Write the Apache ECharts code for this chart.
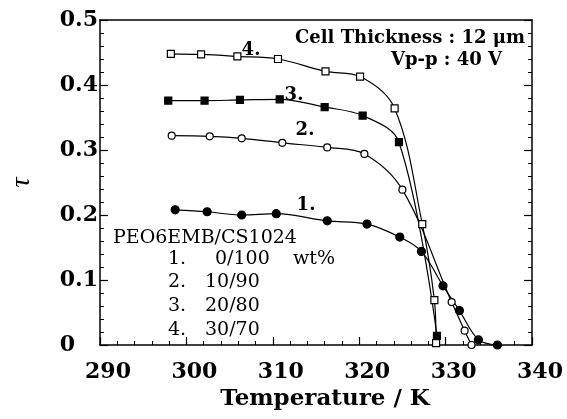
<!DOCTYPE html>
<html>
<head>
<meta charset="utf-8">
<script src="https://cdn.jsdelivr.net/npm/echarts@6/dist/echarts.min.js"></script>
<style>
  html, body { margin: 0; padding: 0; background: #fff; }
  #chart { width: 567px; height: 419px; }
</style>
</head>
<body>
<div id="chart"></div>
<script>
// values
var temp1 = [298.7, 302.4, 306.4, 310.4, 316.3, 320.9, 324.7, 327.2, 329.7, 331.6, 333.8, 336.0];
var tau1 = [0.208, 0.205, 0.200, 0.202, 0.191, 0.186, 0.166, 0.144, 0.091, 0.053, 0.008, 0.0];

var temp2 = [298.3, 302.7, 306.4, 311.1, 316.3, 320.6, 325.0, 330.7, 332.2, 333.0];
var tau2 = [0.322, 0.321, 0.318, 0.311, 0.304, 0.294, 0.239, 0.066, 0.022, 0.0];

var temp3 = [297.9, 302.1, 306.2, 310.8, 316.0, 320.4, 324.6, 329.0];
var tau3 = [0.376, 0.376, 0.377, 0.378, 0.366, 0.353, 0.312, 0.014];

var temp4 = [298.2, 301.7, 305.9, 310.6, 316.1, 320.1, 324.1, 327.3, 328.7, 328.9];
var tau4 = [0.448, 0.447, 0.444, 0.440, 0.421, 0.413, 0.364, 0.186, 0.069, 0.003];

var xTicks = [290, 300, 310, 320, 330, 340];
var yTicks = [0, 0.1, 0.2, 0.3, 0.4, 0.5];

var legendTitle = 'PEO6EMB/CS1024';
var legendRows = [['1.', '0/100'], ['2.', '10/90'], ['3.', '20/80'], ['4.', '30/70']];

function pairs(xs, ys) {
    return xs.map(function (x, i) { return [x, ys[i]]; });
}

var serifB = '"DejaVu Serif", "Liberation Serif", serif';
var serifR = '19px "DejaVu Serif", serif';

function curve(data, symbol, filled, size) {
    return {
        type: 'line',
        data: data,
        smooth: 0.35,
        symbol: symbol,
        symbolSize: size,
        showAllSymbol: true,
        lineStyle: { color: '#000', width: 1.2 },
        itemStyle: { color: filled ? '#000' : '#fff', borderColor: '#000', borderWidth: 1.2 },
        animation: false
    };
}

function note(x, y, text, font, align) {
    return { type: 'text', x: x, y: y, style: { text: text, font: font, fill: '#000', textAlign: align || 'left', textVerticalAlign: 'middle' } };
}

var chart = echarts.init(document.getElementById('chart'));

var tickStyle = { show: true, inside: true, length: 8, lineStyle: { color: '#000', width: 1.2 } };
var minorStyle = { show: true, splitNumber: 5, length: 4, lineStyle: { color: '#000', width: 1 } };
var lineStyle = { show: true, onZero: false, lineStyle: { color: '#000', width: 1.5 } };

chart.setOption({
    animation: false,
    grid: { left: 94, right: 35, top: 20, bottom: 74, containLabel: false },
    xAxis: [{
        type: 'value', min: xTicks[0], max: xTicks[xTicks.length - 1], interval: 10,
        axisLine: lineStyle, axisTick: tickStyle, minorTick: minorStyle,
        splitLine: { show: false },
        axisLabel: { margin: 16, color: '#000', fontFamily: serifB, fontWeight: 'bold', fontSize: 22, padding: [0, 0, 0, 16] },
        name: 'Temperature / K', nameLocation: 'middle', nameGap: 40,
        nameTextStyle: { color: '#000', fontFamily: serifB, fontWeight: 'bold', fontSize: 23, padding: [0, 0, 0, 18] }
    }, {
        type: 'value', position: 'top', min: 290, max: 340,
        axisLine: lineStyle, axisTick: { show: false }, axisLabel: { show: false }, splitLine: { show: false }
    }],
    yAxis: [{
        type: 'value', min: yTicks[0], max: yTicks[yTicks.length - 1], interval: 0.1,
        axisLine: lineStyle, axisTick: tickStyle, minorTick: minorStyle,
        splitLine: { show: false },
        axisLabel: {
            margin: 2, color: '#000', fontFamily: serifB, fontWeight: 'bold', fontSize: 22, padding: [6, 0, 0, 0],
            formatter: function (v) { return v === 0 ? '0   ' : v.toFixed(1); }
        },
        name: 'τ', nameLocation: 'middle', nameGap: 64, nameRotate: 90,
        nameTextStyle: { color: '#000', fontFamily: '"Liberation Serif", serif', fontStyle: 'italic', fontSize: 28 }
    }, {
        type: 'value', position: 'right', min: 0, max: 0.5, interval: 0.1,
        axisLine: lineStyle, axisTick: tickStyle, minorTick: minorStyle,
        axisLabel: { show: false }, splitLine: { show: false }
    }],
    series: [
        curve(pairs(temp1, tau1), 'circle', true, 8),
        curve(pairs(temp2, tau2), 'circle', false, 7),
        curve(pairs(temp3, tau3), 'rect', true, 7),
        curve(pairs(temp4, tau4), 'rect', false, 7)
    ],
    graphic: [
        note(525, 38, 'Cell Thickness : 12 μm', 'bold 18px ' + serifB, 'right'),
        note(502, 60, 'Vp-p : 40 V', 'bold 18px ' + serifB, 'right'),
        note(251, 50, '4.', 'bold 18px ' + serifB, 'center'),
        note(294, 95, '3.', 'bold 18px ' + serifB, 'center'),
        note(305, 130, '2.', 'bold 18px ' + serifB, 'center'),
        note(306, 205, '1.', 'bold 18px ' + serifB, 'center'),
        note(113, 238, legendTitle, serifR),
        note(168, 259, legendRows[0][0], serifR),
        note(215, 259, legendRows[0][1], serifR),
        note(293, 259, 'wt%', serifR),
        note(168, 282, legendRows[1][0], serifR),
        note(205, 282, legendRows[1][1], serifR),
        note(168, 306, legendRows[2][0], serifR),
        note(205, 306, legendRows[2][1], serifR),
        note(168, 330, legendRows[3][0], serifR),
        note(205, 330, legendRows[3][1], serifR)
    ]
});
</script>
</body>
</html>
